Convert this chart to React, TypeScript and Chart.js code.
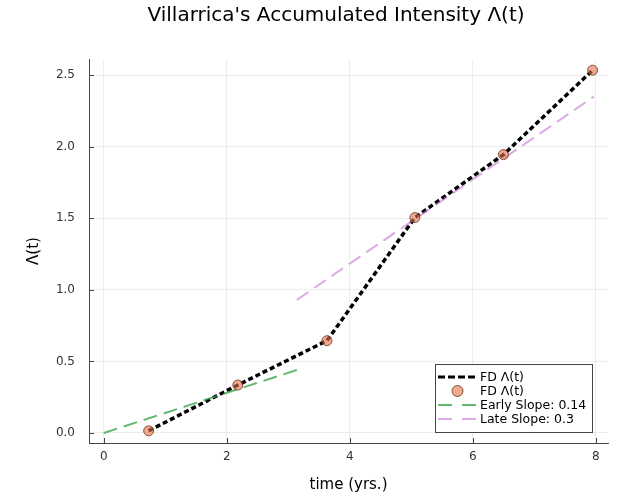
import React, { useEffect, useRef } from "react";
import { Chart, registerables } from "chart.js";

Chart.register(...registerables);

const titleText = "Villarrica's Accumulated Intensity Λ(t)";
const xTitle = "time (yrs.)";
const yTitle = "Λ(t)";

const timeYrs = [0.73, 2.18, 3.63, 5.06, 6.5, 7.95];
const accIntensity = [0.015, 0.335, 0.645, 1.505, 1.945, 2.535];
const earlyX = [0, 3.14];
const earlyY = [0, 0.44];
const lateX = [3.14, 7.97];
const lateY = [0.93, 2.35];

const xTicks = [0, 2, 4, 6, 8];
const yTicks = [0, 0.5, 1.0, 1.5, 2.0, 2.5];

const legendLabels = ["FD Λ(t)", "FD Λ(t)", "Early Slope: 0.14", "Late Slope: 0.3"];

const FONT = "'DejaVu Sans', sans-serif";
const BLACK = "#000000";
const DOT_FILL = "rgba(227,111,71,0.6)";
const DOT_EDGE = "rgba(110,50,30,0.8)";
const GREEN = "rgba(61,164,77,0.8)";
const PURPLE = "rgba(195,113,210,0.6)";

const zip = (xs: number[], ys: number[]) => xs.map((x, i) => ({ x, y: ys[i] }));

const titleDraw = {
  id: "titleDraw",
  afterDraw(chart: any) {
    const { ctx } = chart;
    ctx.save();
    ctx.font = "20px " + FONT;
    ctx.fillStyle = "#000";
    ctx.textAlign = "center";
    ctx.textBaseline = "middle";
    ctx.fillText(titleText, 336, 16);
    ctx.restore();
  },
};

const innerTicks = {
  id: "innerTicks",
  beforeDatasetsDraw(chart: any) {
    const { ctx, chartArea, scales } = chart;
    ctx.save();
    ctx.strokeStyle = "#444";
    ctx.lineWidth = 1;
    ctx.beginPath();
    for (const v of xTicks) {
      const px = Math.round(scales.x.getPixelForValue(v)) + 0.5;
      ctx.moveTo(px, chartArea.bottom);
      ctx.lineTo(px, chartArea.bottom - 5);
    }
    for (const v of yTicks) {
      const py = Math.round(scales.y.getPixelForValue(v)) + 0.5;
      ctx.moveTo(chartArea.left, py);
      ctx.lineTo(chartArea.left + 5, py);
    }
    ctx.stroke();
    ctx.restore();
  },
};

const customLegend = {
  id: "customLegend",
  afterDraw(chart: any) {
    const { ctx, chartArea } = chart;
    const w = 157;
    const h = 68;
    const right = chartArea.right - 16;
    const bottom = chartArea.bottom - 11;
    const left = right - w;
    const top = bottom - h;
    ctx.save();
    ctx.fillStyle = "#ffffff";
    ctx.fillRect(left, top, w, h);
    ctx.strokeStyle = "#444";
    ctx.lineWidth = 1;
    ctx.strokeRect(Math.round(left) + 0.5, Math.round(top) + 0.5, w, h);
    const rowY = [top + 13, top + 27, top + 41, top + 55];
    const sx0 = left + 3;
    const sx1 = left + 42;
    ctx.font = "12.5px " + FONT;
    ctx.textBaseline = "middle";
    ctx.textAlign = "left";
    ctx.strokeStyle = BLACK;
    ctx.lineWidth = 3;
    ctx.setLineDash([7, 3]);
    ctx.beginPath();
    ctx.moveTo(sx0, rowY[0]);
    ctx.lineTo(sx1, rowY[0]);
    ctx.stroke();
    ctx.setLineDash([]);
    ctx.fillStyle = DOT_FILL;
    ctx.strokeStyle = DOT_EDGE;
    ctx.lineWidth = 1;
    ctx.beginPath();
    ctx.arc((sx0 + sx1) / 2, rowY[1], 5.5, 0, Math.PI * 2);
    ctx.fill();
    ctx.stroke();
    ctx.strokeStyle = GREEN;
    ctx.lineWidth = 2;
    ctx.setLineDash([14, 10]);
    ctx.beginPath();
    ctx.moveTo(sx0, rowY[2]);
    ctx.lineTo(sx1, rowY[2]);
    ctx.stroke();
    ctx.strokeStyle = PURPLE;
    ctx.beginPath();
    ctx.moveTo(sx0, rowY[3]);
    ctx.lineTo(sx1, rowY[3]);
    ctx.stroke();
    ctx.setLineDash([]);
    ctx.fillStyle = "#000";
    legendLabels.forEach((t, i) => ctx.fillText(t, left + 45, rowY[i] + 0.5));
    ctx.restore();
  },
};

export default function App() {
  const ref = useRef<HTMLCanvasElement | null>(null);
  useEffect(() => {
    if (!ref.current) return;
    const chart = new Chart(ref.current, {
      type: "scatter",
      data: {
        datasets: [
          {
            label: legendLabels[0],
            type: "line",
            data: zip(timeYrs, accIntensity),
            borderColor: BLACK,
            borderWidth: 3.5,
            borderDash: [5, 3],
            pointRadius: 0,
            fill: false,
            order: 4,
          } as any,
          {
            label: legendLabels[1],
            data: zip(timeYrs, accIntensity),
            backgroundColor: DOT_FILL,
            borderColor: DOT_EDGE,
            borderWidth: 1,
            pointRadius: 5,
            order: 1,
          },
          {
            label: legendLabels[2],
            type: "line",
            data: zip(earlyX, earlyY),
            borderColor: GREEN,
            borderWidth: 2,
            borderDash: [14, 7],
            pointRadius: 0,
            fill: false,
            order: 3,
          } as any,
          {
            label: legendLabels[3],
            type: "line",
            data: zip(lateX, lateY),
            borderColor: PURPLE,
            borderWidth: 2,
            borderDash: [14, 7],
            pointRadius: 0,
            fill: false,
            order: 2,
          } as any,
        ],
      },
      options: {
        animation: false,
        responsive: false,
        maintainAspectRatio: false,
        layout: { padding: { left: 0, right: 11, top: 59, bottom: 0 } },
        plugins: {
          legend: { display: false },
          tooltip: { enabled: false },
          title: { display: false },
        },
        scales: {
          x: {
            type: "linear",
            min: -0.24,
            max: 8.2,
            afterBuildTicks: (s: any) => {
              s.ticks = xTicks.map((v) => ({ value: v }));
            },
            afterFit: (s: any) => {
              s.height = 51;
            },
            ticks: {
              color: "#333",
              font: { family: FONT, size: 12 },
              padding: 7,
              maxRotation: 0,
              autoSkip: false,
            },
            grid: { color: "rgba(0,0,0,0.07)", drawTicks: false },
            border: { color: "#444", width: 1 },
            title: {
              display: true,
              text: xTitle,
              color: "#000",
              font: { family: FONT, size: 15 },
              padding: { top: 4, bottom: 0 },
            },
          },
          y: {
            type: "linear",
            min: -0.07,
            max: 2.613,
            afterBuildTicks: (s: any) => {
              s.ticks = yTicks.map((v) => ({ value: v }));
            },
            afterFit: (s: any) => {
              s.width = 89;
            },
            ticks: {
              color: "#333",
              font: { family: FONT, size: 12 },
              padding: 14,
              autoSkip: false,
              callback: (v: any) => Number(v).toFixed(1),
            },
            grid: { color: "rgba(0,0,0,0.07)", drawTicks: false },
            border: { color: "#444", width: 1 },
            title: {
              display: true,
              text: yTitle,
              color: "#000",
              font: { family: FONT, size: 15 },
              padding: { top: 25, bottom: 0 },
            },
          },
        },
      } as any,
      plugins: [innerTicks, customLegend, titleDraw],
    });
    return () => chart.destroy();
  }, []);
  return (
    <div style={{ position: "absolute", left: 0, top: 0, width: 619, height: 494, background: "#fff" }}>
      <canvas ref={ref} width={619} height={494} style={{ width: 619, height: 494 }} />
    </div>
  );
}
